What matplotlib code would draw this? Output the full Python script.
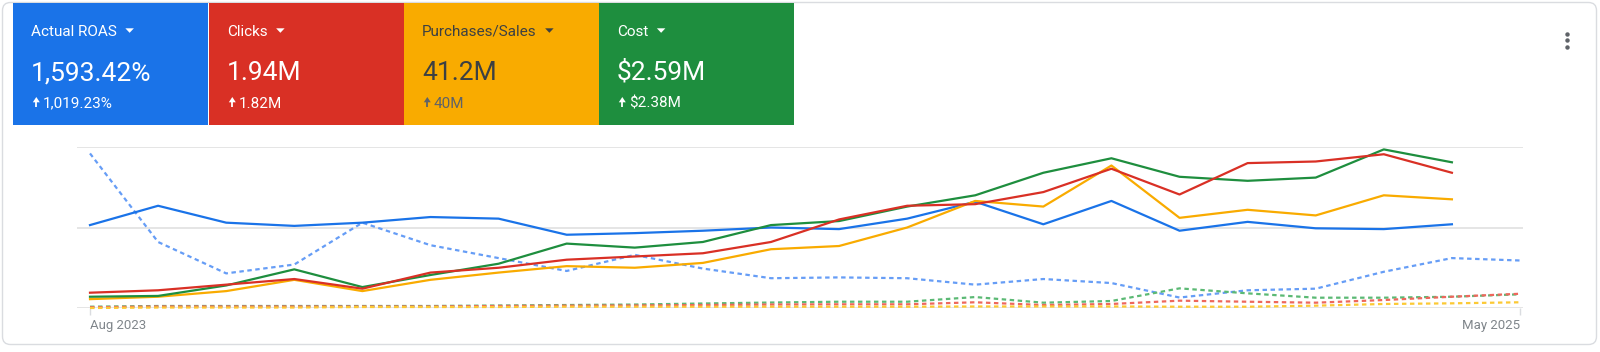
import matplotlib
matplotlib.use("Agg")
import matplotlib.pyplot as plt
from matplotlib.patches import Rectangle, FancyBboxPatch, Polygon

plt.rcParams['font.family'] = ['Roboto', 'DejaVu Sans']

# months on the x axis
months = ["Aug 2023", "Sep 2023", "Oct 2023", "Nov 2023", "Dec 2023", "Jan 2024",
          "Feb 2024", "Mar 2024", "Apr 2024", "May 2024", "Jun 2024", "Jul 2024",
          "Aug 2024", "Sep 2024", "Oct 2024", "Nov 2024", "Dec 2024", "Jan 2025",
          "Feb 2025", "Mar 2025", "Apr 2025", "May 2025"]

# current period (solid), normalised to the chart's own scale
roas = [1.03, 1.27, 1.06, 1.02, 1.06, 1.13, 1.11, 0.91, 0.93, 0.96, 1.00,
        0.98, 1.11, 1.32, 1.04, 1.33, 0.96, 1.07, 0.99, 0.98, 1.04]
clicks = [0.19, 0.22, 0.29, 0.36, 0.24, 0.44, 0.50, 0.60, 0.64, 0.68, 0.82,
          1.10, 1.27, 1.29, 1.44, 1.73, 1.41, 1.80, 1.82, 1.91, 1.68]
sales = [0.11, 0.14, 0.21, 0.35, 0.21, 0.35, 0.44, 0.52, 0.50, 0.56, 0.73,
         0.77, 1.00, 1.33, 1.26, 1.77, 1.12, 1.22, 1.15, 1.40, 1.35]
cost = [0.14, 0.15, 0.28, 0.48, 0.26, 0.41, 0.55, 0.80, 0.75, 0.82, 1.03,
        1.08, 1.26, 1.40, 1.68, 1.86, 1.63, 1.58, 1.62, 1.97, 1.81]

# comparison period (dashed)
roas_prev = [1.92, 0.82, 0.43, 0.54, 1.06, 0.78, 0.62, 0.46, 0.66, 0.49, 0.37,
             0.38, 0.37, 0.29, 0.36, 0.31, 0.13, 0.22, 0.24, 0.45, 0.62, 0.59]
clicks_prev = [0.009, 0.019, 0.019, 0.019, 0.019, 0.019, 0.025, 0.029, 0.031, 0.037, 0.043,
               0.046, 0.046, 0.071, 0.037, 0.050, 0.091, 0.078, 0.066, 0.099, 0.140, 0.177]
sales_prev = [0.0, 0.006, 0.006, 0.006, 0.012, 0.012, 0.012, 0.016, 0.016, 0.016, 0.016,
              0.016, 0.016, 0.019, 0.019, 0.019, 0.016, 0.016, 0.029, 0.050, 0.058, 0.071]
cost_prev = [0.016, 0.025, 0.025, 0.025, 0.025, 0.025, 0.031, 0.037, 0.043, 0.056, 0.068,
             0.078, 0.078, 0.136, 0.066, 0.087, 0.244, 0.182, 0.128, 0.128, 0.140, 0.170]

# scorecards
card_titles = ["Actual ROAS", "Clicks", "Purchases/Sales", "Cost"]
card_values = ["1,593.42%", "1.94M", "41.2M", "$2.59M"]
card_changes = ["1,019.23%", "1.82M", "40M", "$2.38M"]

blue, red, orange, green = '#1a73e8', '#d93025', '#f9ab00', '#1e8e3e'
light = {blue: '#669df6', red: '#ee675c', orange: '#fcc934', green: '#5bb974'}

fig = plt.figure(figsize=(16, 3.52), dpi=100)
bg = fig.add_axes([0, 0, 1, 1])
bg.set_xlim(0, 1600)
bg.set_ylim(352, 0)
bg.axis('off')

bg.add_patch(FancyBboxPatch((2.5, 2.5), 1594, 342, boxstyle="round,pad=0,rounding_size=8",
                            facecolor='white', edgecolor='#dadce0', lw=1))

tile_colors = [blue, red, orange, green]
tile_x = [13, 209, 404, 599]
titles = []
for i in range(4):
    bg.add_patch(Rectangle((tile_x[i], 3), 195, 122, facecolor=tile_colors[i], edgecolor='none'))
    fg = '#3c4043' if tile_colors[i] == orange else 'white'
    sub = '#5f6368' if tile_colors[i] == orange else 'white'
    x0 = tile_x[i] + 18
    titles.append(bg.text(x0, 36, card_titles[i], color=fg, fontsize=11, va='baseline'))
    bg.text(x0, 80, card_values[i], color=fg, fontsize=19, va='baseline')
    # small up arrow + change
    bg.add_patch(Polygon([(x0 + 1.8, 102.3), (x0 + 8.8, 102.3), (x0 + 5.3, 97)],
                         closed=True, facecolor=sub, edgecolor='none'))
    bg.plot([x0 + 5.3, x0 + 5.3], [101.5, 107], color=sub, lw=1.3, solid_capstyle='butt')
    bg.text(x0 + 12, 107.5, card_changes[i], color=sub, fontsize=11, va='baseline')

# dropdown carets right after each title
fig.canvas.draw()
inv = bg.transData.inverted()
for t in titles:
    ext = t.get_window_extent()
    xe = inv.transform((ext.x1, ext.y0))[0] + 8.5
    bg.add_patch(Polygon([(xe, 28.3), (xe + 8.5, 28.3), (xe + 4.25, 32.8)],
                         closed=True, facecolor=t.get_color(), edgecolor='none'))

# kebab menu
for yy in [33.5, 40, 46.5]:
    bg.plot(1566.5, yy, marker='o', ms=3.2, color='#5f6368', mec='none')

# line chart
ax = fig.add_axes([77 / 1600, 44 / 352, 1446 / 1600, 161 / 352])
ax.set_facecolor('none')
x_all = list(range(len(months)))
x_cur = x_all[:len(roas)]

for series, col in [(roas_prev, blue), (cost_prev, green), (clicks_prev, red), (sales_prev, orange)]:
    ax.plot(x_all, series, color=light[col], lw=1.6, dashes=(2, 1.6), clip_on=False, zorder=2)
for series, col in [(roas, blue), (sales, orange), (cost, green), (clicks, red)]:
    ax.plot(x_cur, series, color=col, lw=1.6, clip_on=False, zorder=3)

ax.set_ylim(0, 2)
ax.set_yticks([0, 1, 2])
ax.set_yticklabels([])
ax.tick_params(axis='y', length=0)
ax.grid(axis='y', color='#e3e3e3', lw=1.3)
ax.set_axisbelow(True)
step = (1520 - 90) / 21
ax.set_xlim(-13 / step, 21 + 3 / step)
ax.set_xticks([0, len(months) - 1])
ax.set_xticklabels([months[0], months[-1]])
ax.tick_params(axis='x', length=5, color='#dadce0', width=1, pad=3, labelsize=9.5, labelcolor='#80868b')
labels = ax.get_xticklabels()
labels[0].set_ha('left')
labels[1].set_ha('right')
for s in ax.spines.values():
    s.set_visible(False)

fig.savefig('out.png', dpi=100)
